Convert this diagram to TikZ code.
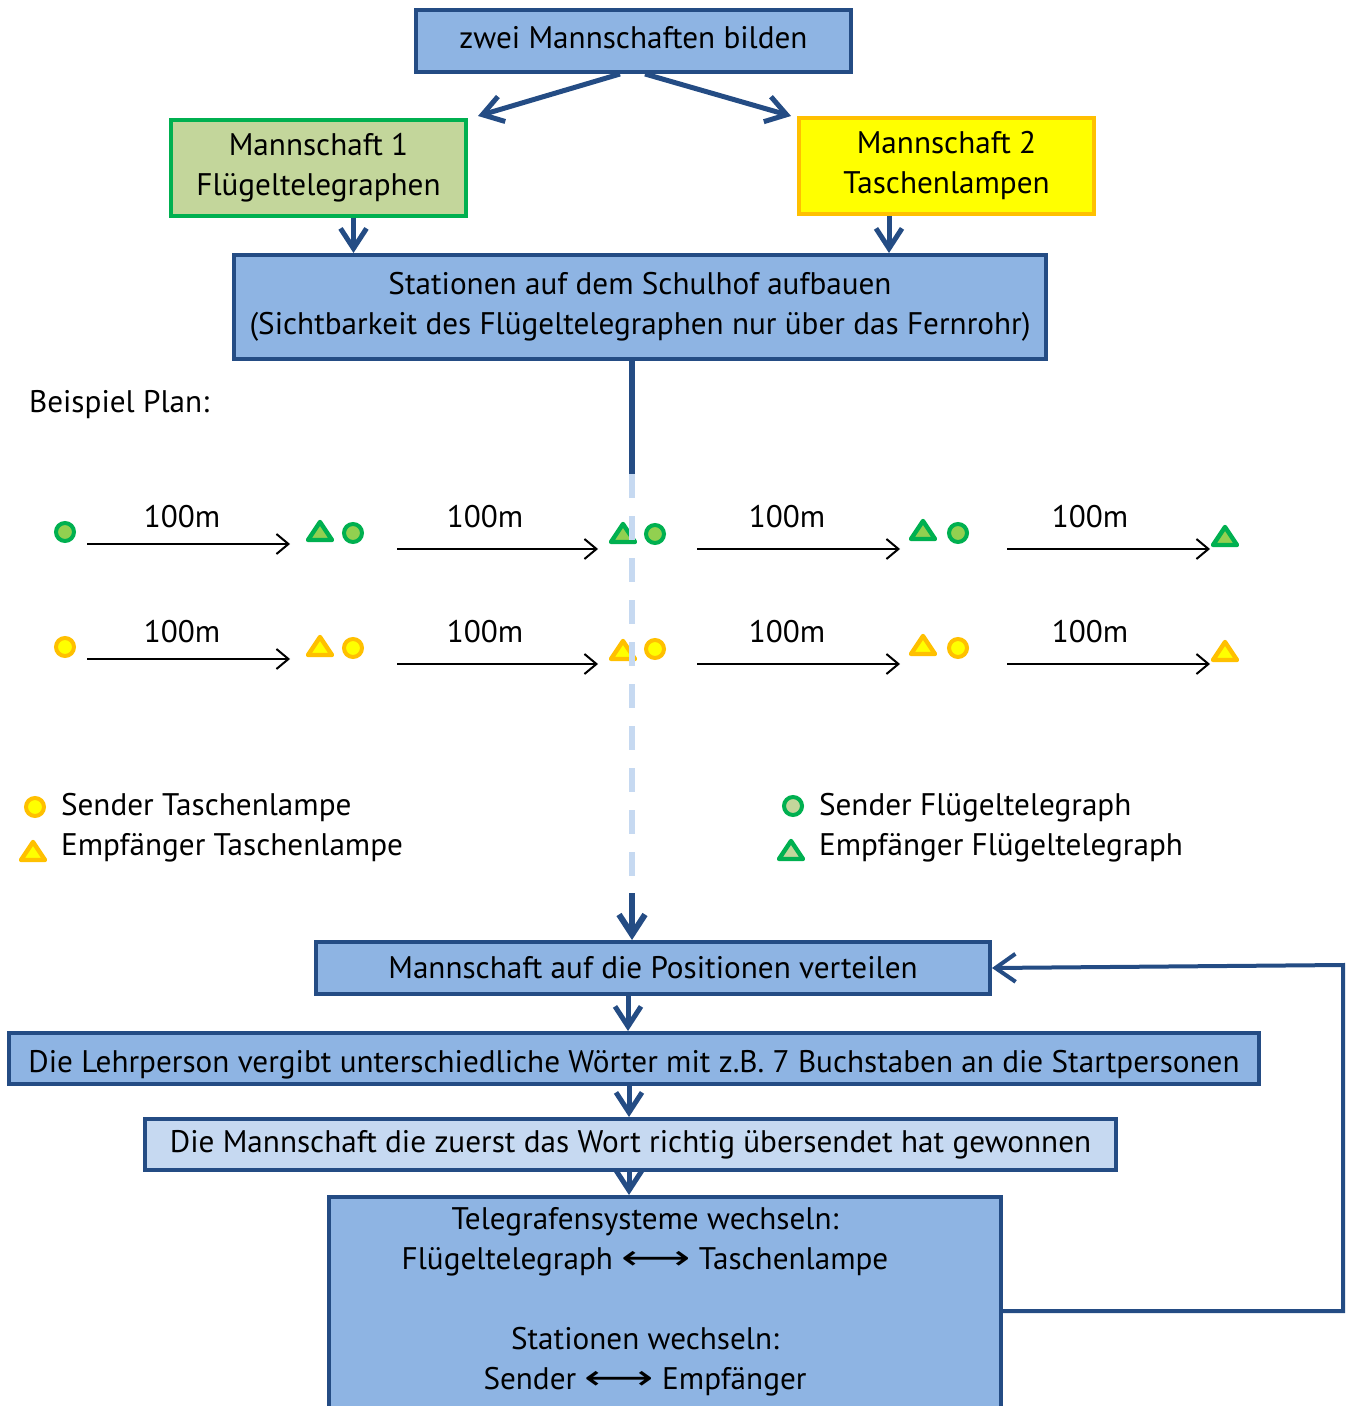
\documentclass[tikz,border=0pt]{standalone}
\usepackage{fontspec}
\setmainfont{PT Sans}
\newfontfamily\symfont{DejaVu Sans}
\usetikzlibrary{calc,arrows.meta}
\definecolor{boxfill}{HTML}{8EB4E3}
\definecolor{boxline}{HTML}{244C84}
\definecolor{lightfill}{HTML}{C6D9F1}
\definecolor{teamgreen}{HTML}{00B050}
\definecolor{greenfill}{HTML}{C3D69B}
\definecolor{markgreen}{HTML}{92D050}
\definecolor{teamorange}{HTML}{FFC000}
\definecolor{teamyellow}{HTML}{FFFF00}
\def\sendmark(#1)#2#3{\draw[line width=2pt,draw=#2,fill=#3] (#1) circle (4.5pt);}
\def\recvmark(#1)#2#3{\draw[line width=2.2pt,draw=#2,fill=#3,line join=round] ($(#1)+(0,-10)$) -- ($(#1)+(12,8)$) -- ($(#1)+(-12,8)$) -- cycle;}
\def\swaparrow{{\symfont\scalebox{1.55}[1.1]{⟷}}}
\tikzset{
  flowbox/.style={draw=boxline,fill=boxfill,line width=2pt,align=center,inner sep=0pt},
  flowarrow/.style={draw=boxline,line width=2.5pt,-{Straight Barb[length=10pt,width=13pt]}},
  planarrow/.style={line width=1pt,-{Straight Barb[length=6pt,width=10pt]}},
}

\begin{document}
\begin{tikzpicture}[x=0.5pt,y=-0.5pt,font=\fontsize{15.6}{20}\selectfont]
		%%%%% START %%%%%
		\useasboundingbox (0,0) rectangle (1351,1406);
		
		\node[flowbox,minimum width=217.5pt,minimum height=31pt] (twoteams) at (633.5,41) {\raisebox{1.5pt}[\height][\depth]{zwei Mannschaften bilden}};
		\node[flowbox,draw=teamgreen,fill=greenfill,minimum width=147.5pt,minimum height=48pt] (teamone) at (318.5,168) {Mannschaft 1\\Flügeltelegraphen};
		\node[flowbox,draw=teamorange,fill=teamyellow,minimum width=147.5pt,minimum height=48pt] (teamtwo) at (946.5,166) {Mannschaft 2\\Taschenlampen};
		\node[flowbox,minimum width=406pt,minimum height=52pt] (stations) at (640,307) {Stationen auf dem Schulhof aufbauen\\(Sichtbarkeit des Flügeltelegraphen nur über das Fernrohr)};
		
		\draw[flowarrow] ([xshift=-6.75pt]twoteams.south) -- ($(teamone.north east)+(10,-2)$);
		\draw[flowarrow] ([xshift=5.75pt]twoteams.south) -- ($(teamtwo.north west)+(-6,0)$);
		\draw[flowarrow] ([xshift=17.5pt]teamone.south) -- ([xshift=17.5pt]teamone.south |- stations.north);
		\draw[flowarrow] ([xshift=-28.75pt]teamtwo.south) -- ([xshift=-28.75pt]teamtwo.south |- stations.north);
		
		% plan
		\node[anchor=west] (plan) at (22,405) {Beispiel Plan:};
		
		\sendmark(65,532){teamgreen}{markgreen}
		\recvmark(320,532){teamgreen}{markgreen}
		\sendmark(353,533){teamgreen}{markgreen}
		\recvmark(623,534){teamgreen}{markgreen}
		\sendmark(655,534){teamgreen}{markgreen}
		\recvmark(923,531){teamgreen}{markgreen}
		\sendmark(958,533){teamgreen}{markgreen}
		\recvmark(1225,537){teamgreen}{markgreen}
		
		\sendmark(65,647){teamorange}{teamyellow}
		\recvmark(320,647){teamorange}{teamyellow}
		\sendmark(353,648){teamorange}{teamyellow}
		\recvmark(623,651){teamorange}{teamyellow}
		\sendmark(655,649){teamorange}{teamyellow}
		\recvmark(923,646){teamorange}{teamyellow}
		\sendmark(958,648){teamorange}{teamyellow}
		\recvmark(1225,652){teamorange}{teamyellow}
		
		\draw[planarrow] (87,544) -- (290,544);
		\draw[planarrow] (397,549) -- (598,549);
		\draw[planarrow] (697,549) -- (900,549);
		\draw[planarrow] (1007,549) -- (1210,549);
		\draw[planarrow] (87,659) -- (290,659);
		\draw[planarrow] (397,664) -- (598,664);
		\draw[planarrow] (697,664) -- (900,664);
		\draw[planarrow] (1007,664) -- (1210,664);
		\node (dist1) at (182,517) {100m};
		\node (dist2) at (485,517) {100m};
		\node (dist3) at (787,517) {100m};
		\node (dist4) at (1090,517) {100m};
		\node (dist5) at (182,632) {100m};
		\node (dist6) at (485,632) {100m};
		\node (dist7) at (787,632) {100m};
		\node (dist8) at (1090,632) {100m};
		
		% legend
		\sendmark(35,807){teamorange}{teamyellow}
		\recvmark(33,852){teamorange}{teamyellow}
		\sendmark(793,806){teamgreen}{greenfill}
		\recvmark(791,851){teamgreen}{greenfill}
		\node[anchor=west] (sendlamp) at (54,808) {Sender Taschenlampe};
		\node[anchor=west] (recvlamp) at (54,848) {Empfänger Taschenlampe};
		\node[anchor=west] (sendwing) at (812,808) {Sender Flügeltelegraph};
		\node[anchor=west] (recvwing) at (812,848) {Empfänger Flügeltelegraph};
		
		% game
		\node[flowbox,minimum width=337pt,minimum height=26pt] (spread) at (653,968) {Mannschaft auf die Positionen verteilen};
		\node[flowbox,minimum width=625pt,minimum height=25.5pt] (teacher) at (634,1058.5) {\raisebox{-3pt}[\height][\depth]{Die Lehrperson vergibt unterschiedliche Wörter mit z.B. 7 Buchstaben an die Startpersonen}};
		\node[flowbox,fill=lightfill,minimum width=485.5pt,minimum height=25.5pt] (winner) at (630.5,1144.5) {Die Mannschaft die zuerst das Wort richtig übersendet hat gewonnen};
		\node[flowbox,minimum width=336pt,minimum height=120pt,anchor=north] (swap) at (665,1195) {};
		\node[align=center] (swaptext) at (645,1302) {Telegrafensysteme wechseln:\\Flügeltelegraph \swaparrow{} Taschenlampe\\[20pt]Stationen wechseln:\\Sender \swaparrow{} Empfänger};
		
		\coordinate (dashtop) at ($(stations.south -| spread.north)+(-21,113)$);
		\coordinate (dashend) at (632,893);
		\draw[boxline,line width=3pt] ([xshift=-4pt]stations.south) -- (dashtop);
		\draw[lightfill,line width=3pt,dash pattern=on 12pt off 9pt] (dashtop) -- (dashend);
		\draw[flowarrow,line width=3pt] (dashend) -- (dashend |- spread.north);
		
		\draw[flowarrow] ([xshift=-12.5pt]spread.south) -- ([xshift=-12.5pt]spread.south |- teacher.north);
		\draw[flowarrow] ([xshift=-2.5pt]teacher.south) -- ([xshift=-2.5pt]teacher.south |- winner.north);
		\draw[flowarrow] ([xshift=-0.75pt]winner.south) -- ([xshift=-0.75pt]winner.south |- swap.north);
		
		\draw[draw=boxline,line width=2pt,-{Straight Barb[length=10pt,width=14pt]}] (swap.east |- 0,1311) -- (1343,1311) -- (1343,965) -- (spread.east);
		%%%%% END %%%%%
	\end{tikzpicture}
\end{document}
